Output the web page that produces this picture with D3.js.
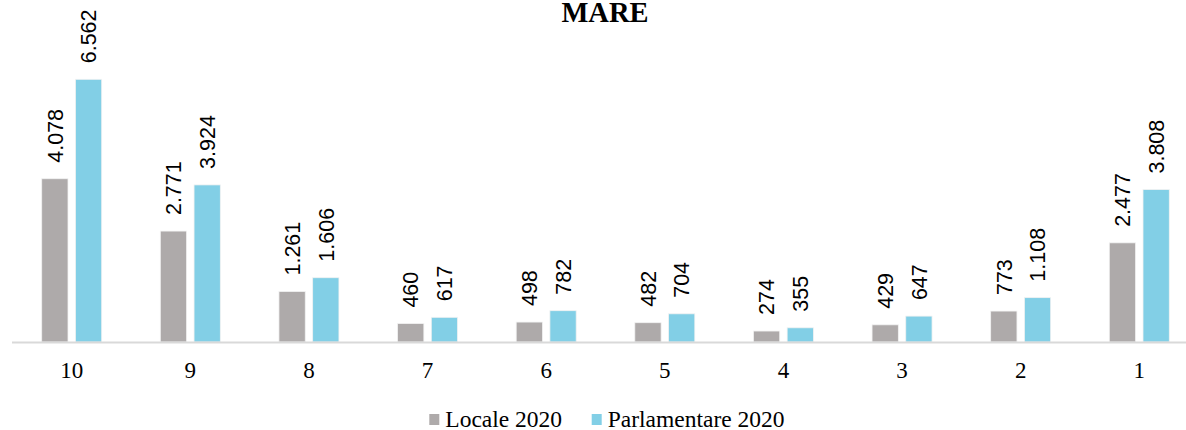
<!DOCTYPE html>
<html>
<head>
<meta charset="utf-8">
<script src="https://cdn.jsdelivr.net/npm/d3@7"></script>
<style>
  body { margin: 0; background: #fff; }
  svg { display: block; }
</style>
</head>
<body>
<div id="chart"></div>
<script>
// Categories and series
var categories = ["10", "9", "8", "7", "6", "5", "4", "3", "2", "1"];
var locale2020 = [4078, 2771, 1261, 460, 498, 482, 274, 429, 773, 2477];
var parlamentare2020 = [6562, 3924, 1606, 617, 782, 704, 355, 647, 1108, 3808];
var seriesNames = ["Locale 2020", "Parlamentare 2020"];
var seriesColors = ["#aeaaaa", "#82cfe6"];

var width = 1186, height = 430;
var baseY = 342;

var svg = d3.select("#chart").append("svg")
	.attr("width", width)
	.attr("height", height);

// number format with dot as thousands separator: 6.562
var fmt = d3.formatLocale({decimal: ",", thousands: ".", grouping: [3], currency: ["", ""]}).format(",d");

var x = d3.scaleBand()
	.domain(categories)
	.range([12.4, 1198.6]);

var xs = d3.scaleBand()
	.domain(seriesNames)
	.range([-30, 30])
	.paddingInner(0.22);

var y = d3.scaleLinear()
	.domain([0, 6562])
	.range([baseY, 79.3]);

var rows = categories.map(function(c, i) {
	return {cat: c, values: [locale2020[i], parlamentare2020[i]]};
});

//Title
svg.append("text")
	.attr("x", 605)
	.attr("y", 21.5)
	.style("text-anchor", "middle")
	.style("font-family", "'Liberation Serif', 'Times New Roman', serif")
	.style("font-weight", "bold")
	.style("font-size", "28.5px")
	.attr("fill", "#000")
	.text("MARE");

var groups = svg.selectAll(".group")
	.data(rows)
	.enter().append("g")
	.attr("class", "group")
	.attr("transform", function(d) { return "translate(" + (x(d.cat) + x.bandwidth() / 2) + ",0)"; });

groups.selectAll("rect")
	.data(function(d) { return d.values.map(function(v, j) { return {v: v, s: seriesNames[j], j: j}; }); })
	.enter().append("rect")
	.attr("x", function(d) { return xs(d.s); })
	.attr("width", xs.bandwidth())
	.attr("y", function(d) { return y(d.v); })
	.attr("height", function(d) { return baseY - y(d.v); })
	.style("fill", function(d) { return seriesColors[d.j]; })
	.style("stroke", "#f2f2f2")
	.style("stroke-width", 0.8);

//Value labels, rotated
groups.selectAll(".val")
	.data(function(d) { return d.values.map(function(v, j) { return {v: v, s: seriesNames[j]}; }); })
	.enter().append("text")
	.attr("class", "val")
	.attr("transform", function(d) {
		return "translate(" + (xs(d.s) + xs.bandwidth() / 2) + "," + (y(d.v) - 16) + ") rotate(-90)";
	})
	.attr("dy", ".36em")
	.style("text-anchor", "start")
	.style("font-family", "'Liberation Sans', Arial, sans-serif")
	.style("font-size", "21.5px")
	.attr("fill", "#000")
	.text(function(d) { return fmt(d.v); });

//Axis line
svg.append("line")
	.attr("x1", 12)
	.attr("x2", width)
	.attr("y1", baseY + 0.5)
	.attr("y2", baseY + 0.5)
	.style("stroke", "#d9d9d9")
	.style("stroke-width", 2);

//Category labels
svg.selectAll(".cat")
	.data(categories)
	.enter().append("text")
	.attr("class", "cat")
	.attr("x", function(d) { return x(d) + x.bandwidth() / 2; })
	.attr("y", 378)
	.style("text-anchor", "middle")
	.style("font-family", "'Liberation Serif', 'Times New Roman', serif")
	.style("font-size", "23px")
	.attr("fill", "#000")
	.text(function(d) { return d; });

//Legend
var legendX = [429.3, 591.7];
var legend = svg.selectAll(".legend")
	.data(seriesNames)
	.enter().append("g")
	.attr("class", "legend")
	.attr("transform", function(d, i) { return "translate(" + legendX[i] + ",414)"; });

legend.append("rect")
	.attr("width", 10)
	.attr("height", 11)
	.style("fill", function(d, i) { return seriesColors[i]; });

legend.append("text")
	.attr("x", 16)
	.attr("y", 12.5)
	.style("font-family", "'Liberation Serif', 'Times New Roman', serif")
	.style("font-size", "23.5px")
	.attr("fill", "#000")
	.text(function(d) { return d; });
</script>
</body>
</html>
